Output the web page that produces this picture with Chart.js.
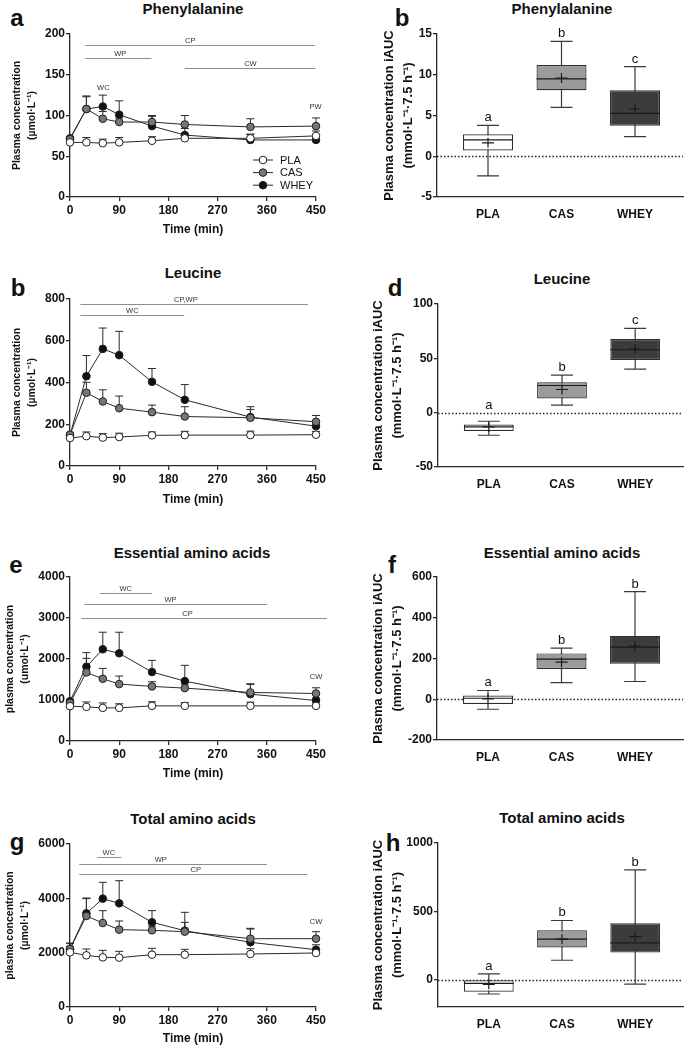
<!DOCTYPE html>
<html>
<head>
<meta charset="utf-8">
<script src="https://cdn.jsdelivr.net/npm/chart.js@4.4.0/dist/chart.umd.min.js"></script>
<style>
  body { margin: 0; background: #fff; }
  #fig { position: relative; width: 685px; height: 1049px; font-family: "Liberation Sans", Arial, sans-serif; color: #111; }
  #fig canvas { position: absolute; }
  .ttl { position: absolute; font-weight: bold; font-size: 15px; transform: translate(-50%, -50%); white-space: nowrap; }
  .lbl { position: absolute; font-weight: bold; font-size: 24px; transform: translate(-50%, -50%); line-height: 1; }
</style>
</head>
<body>
<div id="fig">
  <div class="ttl" style="left:193px;top:8px">Phenylalanine</div>
  <div class="ttl" style="left:562px;top:8px">Phenylalanine</div>
  <div class="ttl" style="left:193px;top:272px">Leucine</div>
  <div class="ttl" style="left:562px;top:278px">Leucine</div>
  <div class="ttl" style="left:192px;top:552px">Essential amino acids</div>
  <div class="ttl" style="left:562px;top:552px">Essential amino acids</div>
  <div class="ttl" style="left:193px;top:818px">Total amino acids</div>
  <div class="ttl" style="left:562px;top:817px">Total amino acids</div>
  <div class="lbl" style="left:17px;top:18px">a</div>
  <div class="lbl" style="left:402px;top:18px">b</div>
  <div class="lbl" style="left:18px;top:288px">b</div>
  <div class="lbl" style="left:395px;top:288px">d</div>
  <div class="lbl" style="left:16px;top:565px">e</div>
  <div class="lbl" style="left:392px;top:565px">f</div>
  <div class="lbl" style="left:17px;top:842px">g</div>
  <div class="lbl" style="left:393px;top:843px">h</div>
  <canvas id="pheLine"></canvas>
  <canvas id="pheBox"></canvas>
  <canvas id="leuLine"></canvas>
  <canvas id="leuBox"></canvas>
  <canvas id="eaaLine"></canvas>
  <canvas id="eaaBox"></canvas>
  <canvas id="taaLine"></canvas>
  <canvas id="taaBox"></canvas>
</div>
<script>
// ---- data ----
const times = [0, 30, 60, 90, 150, 210, 330, 450];
const timeTicks = [0, 90, 180, 270, 360, 450];
const groups = ['PLA', 'CAS', 'WHEY'];

// Phenylalanine (umol/L), mean and upper SD
const phePla = [67, 67, 66, 67, 69, 72, 72, 75];
const pheCas = [71, 108, 96, 92, 92, 89, 86, 87];
const pheWhey = [72, 108, 111, 101, 87, 76, 70, 70];
const phePlaSd = [4, 6, 5, 6, 5, 3, 5, 6];
const pheCasSd = [3, 16, 9, 5, 8, 11, 10, 10];
const pheWheySd = [2, 15, 14, 17, 12, 8, 7, 2];
const pheTicks = [0, 50, 100, 150, 200];
// significance spans: label, from, to, level, label x
const pheSig = [['CP', 28, 448, 186, 220], ['WP', 28, 149, 171, 92], ['CW', 210, 449, 158, 330]];
const pheNotes = [['WC', 61, 134], ['PW', 449, 111]];

// Leucine
const leuPla = [134, 143, 136, 139, 147, 148, 148, 150];
const leuCas = [150, 351, 309, 277, 258, 237, 231, 212];
const leuWhey = [148, 430, 561, 531, 403, 317, 234, 191];
const leuPlaSd = [12, 20, 19, 18, 16, 18, 19, 16];
const leuCasSd = [8, 50, 56, 58, 34, 47, 40, 30];
const leuWheySd = [8, 99, 100, 114, 64, 73, 50, 20];
const leuTicks = [0, 200, 400, 600, 800];
const leuSig = [['CP,WP', 19, 435, 778, 212], ['WC', 19, 209, 725, 114]];
const leuNotes = [];

// Essential amino acids
const eaaPla = [849, 833, 808, 808, 857, 857, 857, 857];
const eaaCas = [930, 1673, 1518, 1388, 1331, 1290, 1184, 1159];
const eaaWhey = [971, 1812, 2237, 2139, 1682, 1461, 1143, 988];
const eaaPlaSd = [60, 120, 120, 100, 100, 80, 90, 40];
const eaaCasSd = [40, 343, 253, 196, 114, 100, 196, 139];
const eaaWheySd = [40, 343, 416, 514, 285, 384, 253, 60];
const eaaTicks = [0, 1000, 2000, 3000, 4000];
const eaaSig = [['WC', 55, 150, 3608, 102], ['WP', 26, 360, 3331, 184], ['CP', 21, 470, 2996, 215]];
const eaaNotes = [['CW', 450, 1551]];

// Total amino acids
const taaPla = [2012, 1902, 1828, 1816, 1926, 1926, 1951, 1988];
const taaCas = [2135, 3350, 3092, 2847, 2822, 2773, 2515, 2515];
const taaWhey = [2135, 3448, 3988, 3816, 3117, 2810, 2380, 2110];
const taaPlaSd = [200, 233, 258, 233, 234, 197, 196, 80];
const taaCasSd = [200, 640, 454, 319, 150, 344, 381, 258];
const taaWheySd = [221, 564, 601, 834, 429, 675, 490, 180];
const taaTicks = [0, 2000, 4000, 6000];
const taaSig = [['WC', 50, 94, 5521, 71], ['WP', 17, 360, 5264, 166], ['CP', 17, 434, 4896, 230]];
const taaNotes = [['CW', 450, 3129]];

// iAUC box plots (whisker low, Q1, median, Q3, whisker high, mean)
const pheAuc = { lo: [-2.4, 6.0, 2.4], q1: [0.7, 8.1, 3.75], med: [2.0, 9.5, 5.25], q3: [2.7, 11.2, 8.1], hi: [3.8, 14.1, 11.0], mean: [1.65, 9.6, 5.8] };
const pheLetters = ['a', 'b', 'c'];
const pheAucTicks = [-5, 0, 5, 10, 15];

const leuAuc = { lo: [-20.8, 6.9, 40], q1: [-16.8, 13, 48.4], med: [-13.1, 25, 57.9], q3: [-11, 28, 67.7], hi: [-7.9, 34.5, 77.5], mean: [-13.1, 21.3, 58.5] };
const leuLetters = ['a', 'b', 'c'];
const leuAucTicks = [-50, 0, 50, 100];

const eaaAuc = { lo: [-49, 82, 87], q1: [-23, 149, 174], med: [5, 197, 256], q3: [18, 225, 311], hi: [43, 251, 528], mean: [2, 182, 261] };
const eaaLetters = ['a', 'b', 'b'];
const eaaAucTicks = [-200, 0, 200, 400, 600];

const taaAuc = { lo: [-105, 142, -32], q1: [-88, 235, 198], med: [-27, 296, 269], q3: [-5, 362, 413], hi: [42, 433, 804], mean: [-34, 296, 315] };
const taaLetters = ['a', 'b', 'b'];
const taaAucTicks = [0, 500, 1000];

// ---- drawing ----
Chart.defaults.font.family = '"Liberation Sans", Arial, sans-serif';
Chart.defaults.color = '#111';
Chart.defaults.animation = false;

const INK = '#2a2a2a';
const FONT = '"Liberation Sans", Arial, sans-serif';
const plain = v => String(v); // no thousands separators

function place(id, left, top, width, height) {
  const c = document.getElementById(id);
  c.width = width; c.height = height;
  c.style.left = left + 'px'; c.style.top = top + 'px';
  c.style.width = width + 'px'; c.style.height = height + 'px';
  return c;
}

// upward SD bars under the points
const errorBars = {
  id: 'errorBars',
  beforeDatasetsDraw(chart) {
    const { ctx, scales: { y } } = chart;
    ctx.save();
    ctx.strokeStyle = INK;
    ctx.lineWidth = 1;
    chart.data.datasets.forEach((ds, di) => {
      if (!ds.errors) return;
      chart.getDatasetMeta(di).data.forEach((pt, i) => {
        const top = y.getPixelForValue(ds.data[i].y + ds.errors[i]);
        ctx.beginPath();
        ctx.moveTo(pt.x, pt.y);
        ctx.lineTo(pt.x, top);
        ctx.moveTo(pt.x - 4, top);
        ctx.lineTo(pt.x + 4, top);
        ctx.stroke();
      });
    });
    ctx.restore();
  }
};

// significance spans and notes
const sigLines = {
  id: 'sigLines',
  beforeDatasetsDraw(chart, args, opts) {
    const { ctx, scales: { x, y } } = chart;
    ctx.save();
    ctx.font = '7.5px ' + FONT;
    ctx.fillStyle = '#333';
    ctx.textAlign = 'center';
    ctx.textBaseline = 'middle';
    ctx.strokeStyle = '#8e8e8e';
    ctx.lineWidth = 1;
    (opts.bars || []).forEach(([label, from, to, level, lx]) => {
      const py = Math.round(y.getPixelForValue(level)) + 0.5;
      ctx.beginPath();
      ctx.moveTo(x.getPixelForValue(from), py);
      ctx.lineTo(x.getPixelForValue(to), py);
      ctx.stroke();
      ctx.fillText(label, x.getPixelForValue(lx), py - 5);
    });
    (opts.notes || []).forEach(([label, nx, ny]) => {
      ctx.fillText(label, x.getPixelForValue(nx), y.getPixelForValue(ny));
    });
    ctx.restore();
  }
};

// legend with line + marker
const seriesLegend = {
  id: 'seriesLegend',
  afterDatasetsDraw(chart, args, opts) {
    if (!opts.show) return;
    const { ctx, chartArea } = chart;
    ctx.save();
    ctx.font = '11px ' + FONT;
    ctx.textBaseline = 'middle';
    chart.data.datasets.forEach((ds, i) => {
      const yy = chartArea.bottom - 37 + i * 12.6;
      const xx = chartArea.right - 53;
      ctx.strokeStyle = INK;
      ctx.lineWidth = 1;
      ctx.beginPath();
      ctx.moveTo(xx - 10, yy);
      ctx.lineTo(xx + 10, yy);
      ctx.stroke();
      ctx.beginPath();
      ctx.arc(xx, yy, 3.8, 0, Math.PI * 2);
      ctx.fillStyle = ds.pointBackgroundColor;
      ctx.fill();
      ctx.strokeStyle = ds.pointBorderColor;
      ctx.stroke();
      ctx.fillStyle = '#111';
      ctx.fillText(ds.label, xx + 17, yy + 0.5);
    });
    ctx.restore();
  }
};

function pts(vals) { return times.map((t, i) => ({ x: t, y: vals[i] })); }

function series(label, vals, errs, fill) {
  return {
    label, data: pts(vals), errors: errs,
    borderColor: INK, borderWidth: 1, tension: 0, fill: false, clip: false,
    pointRadius: 3.8, pointBorderWidth: 1, pointBackgroundColor: fill, pointBorderColor: '#1e1e1e'
  };
}

function lineChart(id, f, vals, yTicks, yTitle, sig, notes, legend) {
  const top = f.T - 10;
  const bottom = Math.round(f.titleY + 9.2);
  place(id, 0, top, 332, bottom - top);
  new Chart(document.getElementById(id), {
    type: 'line',
    data: {
      datasets: [
        series('PLA', vals[0], vals[3], '#ffffff'),
        series('CAS', vals[1], vals[4], '#777777'),
        series('WHEY', vals[2], vals[5], '#111111')
      ]
    },
    options: {
      responsive: false,
      layout: { padding: { top: 10, right: 16, left: 0, bottom: 0 } },
      plugins: {
        legend: { display: false },
        tooltip: { enabled: false },
        sigLines: { bars: sig, notes: notes },
        seriesLegend: { show: legend }
      },
      scales: {
        x: {
          type: 'linear', min: 0, max: 450,
          afterFit: s => { s.height = bottom - f.B; },
          afterBuildTicks: s => { s.ticks = timeTicks.map(v => ({ value: v })); },
          ticks: { callback: plain, font: { size: 12, weight: 'bold' }, color: '#111', padding: 2 },
          grid: { drawOnChartArea: false, tickLength: 4, color: INK, lineWidth: 1.3 },
          border: { color: INK, width: 1.3 },
          title: { display: true, text: 'Time (min)', font: { size: 12, weight: 'bold' }, color: '#111', padding: { top: 2, bottom: 2 } }
        },
        y: {
          min: 0, max: yTicks[yTicks.length - 1],
          afterFit: s => { s.width = 70; },
          afterBuildTicks: s => { s.ticks = yTicks.map(v => ({ value: v })); },
          ticks: { callback: plain, font: { size: 12, weight: 'bold' }, color: '#111', padding: 1 },
          grid: { drawOnChartArea: false, tickLength: 4, color: INK, lineWidth: 1.3 },
          border: { color: INK, width: 1.3 },
          title: { display: true, text: yTitle, font: { size: 10.5, weight: 'bold', lineHeight: 1.45 }, color: '#111', padding: { top: f.tp, bottom: 0 } }
        }
      }
    },
    plugins: [errorBars, sigLines, seriesLegend]
  });
}

// whiskers, median, mean and letters for the box plots
const boxExtras = {
  id: 'boxExtras',
  beforeDatasetsDraw(chart, args, o) {
    const { ctx, chartArea, scales: { x, y } } = chart;
    ctx.save();
    const y0 = Math.round(y.getPixelForValue(0)) + 0.5;
    ctx.setLineDash([1.5, 2]);
    ctx.strokeStyle = '#222';
    ctx.lineWidth = 1.3;
    ctx.beginPath();
    ctx.moveTo(chartArea.left, y0);
    ctx.lineTo(chartArea.right, y0);
    ctx.stroke();
    ctx.setLineDash([]);
    ctx.strokeStyle = '#3a3a3a';
    ctx.lineWidth = 1.2;
    o.stats.lo.forEach((lo, i) => {
      const cx = x.getPixelForValue(i);
      const yl = y.getPixelForValue(lo), yh = y.getPixelForValue(o.stats.hi[i]);
      ctx.beginPath();
      ctx.moveTo(cx, yl); ctx.lineTo(cx, yh);
      ctx.moveTo(cx - 11, yl); ctx.lineTo(cx + 11, yl);
      ctx.moveTo(cx - 11, yh); ctx.lineTo(cx + 11, yh);
      ctx.stroke();
    });
    ctx.restore();
  },
  afterDatasetsDraw(chart, args, o) {
    const { ctx, scales: { x, y } } = chart;
    const bars = chart.getDatasetMeta(0).data;
    ctx.save();
    ctx.strokeStyle = '#1a1a1a';
    ctx.lineWidth = 1.2;
    bars.forEach((bar, i) => {
      const my = y.getPixelForValue(o.stats.med[i]);
      ctx.beginPath();
      ctx.moveTo(bar.x - bar.width / 2, my);
      ctx.lineTo(bar.x + bar.width / 2, my);
      ctx.stroke();
      const ay = y.getPixelForValue(o.stats.mean[i]);
      ctx.beginPath();
      ctx.moveTo(bar.x - 6, ay); ctx.lineTo(bar.x + 6, ay);
      ctx.moveTo(bar.x, ay - 5); ctx.lineTo(bar.x, ay + 5);
      ctx.stroke();
    });
    ctx.font = '13px ' + FONT;
    ctx.fillStyle = '#111';
    ctx.textAlign = 'center';
    ctx.textBaseline = 'alphabetic';
    o.letters.forEach((t, i) => {
      const ly = y.getPixelForValue(Math.max(o.stats.hi[i], 0)) - 4;
      ctx.fillText(t, x.getPixelForValue(i), ly);
    });
    ctx.restore();
  }
};

function boxChart(id, f, stats, letters, yTicks) {
  const top = f.T - 10;
  const bottom = f.B + 22;
  place(id, 340, top, 345, bottom - top);
  new Chart(document.getElementById(id), {
    type: 'bar',
    data: {
      datasets: [{
        data: groups.map((g, i) => ({ x: i, y: [stats.q1[i], stats.q3[i]] })),
        backgroundColor: ['#ffffff', '#9b9b9b', '#3c3c3c'],
        borderColor: '#2e2e2e',
        borderWidth: 1.2,
        borderSkipped: false,
        barPercentage: 0.68,
        categoryPercentage: 1
      }]
    },
    options: {
      responsive: false,
      layout: { padding: { top: 10, right: 2, left: 0, bottom: 0 } },
      plugins: {
        legend: { display: false },
        tooltip: { enabled: false },
        boxExtras: { stats, letters }
      },
      scales: {
        x: {
          type: 'linear', offset: false, min: -0.694, max: 2.653,
          afterFit: s => { s.height = bottom - f.B; },
          afterBuildTicks: s => { s.ticks = groups.map((g, i) => ({ value: i })); },
          ticks: { callback: v => groups[v], font: { size: 12, weight: 'bold' }, color: '#111', padding: 2, maxRotation: 0, autoSkip: false },
          grid: { display: false },
          border: { display: true, color: INK, width: 1.3 }
        },
        y: {
          min: f.yMin, max: yTicks[yTicks.length - 1],
          afterFit: s => { s.width = f.L - 340; },
          afterBuildTicks: s => { s.ticks = yTicks.map(v => ({ value: v })); },
          ticks: { callback: plain, font: { size: 12, weight: 'bold' }, color: '#111', padding: 1 },
          grid: { drawOnChartArea: false, tickLength: 4, color: INK, lineWidth: 1.3 },
          border: { color: INK, width: 1.3 },
          title: {
            display: true, text: ['Plasma concentration iAUC', '(mmol·L⁻¹·7.5 h⁻¹)'],
            font: { size: 13, weight: 'bold', lineHeight: 1.46 }, color: '#111', padding: { top: f.tp, bottom: 0 }
          }
        }
      }
    },
    plugins: [boxExtras]
  });
}

lineChart('pheLine', { T: 34, B: 197, titleY: 230, tp: 9 },
  [phePla, pheCas, pheWhey, phePlaSd, pheCasSd, pheWheySd], pheTicks,
  ['Plasma concentration', '(µmol·L⁻¹)'], pheSig, pheNotes, true);
lineChart('leuLine', { T: 299, B: 466, titleY: 500, tp: 9 },
  [leuPla, leuCas, leuWhey, leuPlaSd, leuCasSd, leuWheySd], leuTicks,
  ['Plasma concentration', '(µmol·L⁻¹)'], leuSig, leuNotes, false);
lineChart('eaaLine', { T: 577, B: 741, titleY: 774, tp: 2.5 },
  [eaaPla, eaaCas, eaaWhey, eaaPlaSd, eaaCasSd, eaaWheySd], eaaTicks,
  ['plasma concentration', '(umol·L⁻¹)'], eaaSig, eaaNotes, false);
lineChart('taaLine', { T: 844, B: 1007, titleY: 1039, tp: 2.5 },
  [taaPla, taaCas, taaWhey, taaPlaSd, taaCasSd, taaWheySd], taaTicks,
  ['plasma concentration', '(µmol·L⁻¹)'], taaSig, taaNotes, false);

boxChart('pheBox', { T: 34, B: 197, L: 437, yMin: -5, tp: 39.5 }, pheAuc, pheLetters, pheAucTicks);
boxChart('leuBox', { T: 304, B: 467, L: 438, yMin: -50, tp: 29 }, leuAuc, leuLetters, leuAucTicks);
boxChart('eaaBox', { T: 577, B: 740, L: 437, yMin: -200, tp: 29 }, eaaAuc, eaaLetters, eaaAucTicks);
boxChart('taaBox', { T: 843, B: 1007, L: 438, yMin: -200, tp: 29 }, taaAuc, taaLetters, taaAucTicks);
</script>
</body>
</html>
